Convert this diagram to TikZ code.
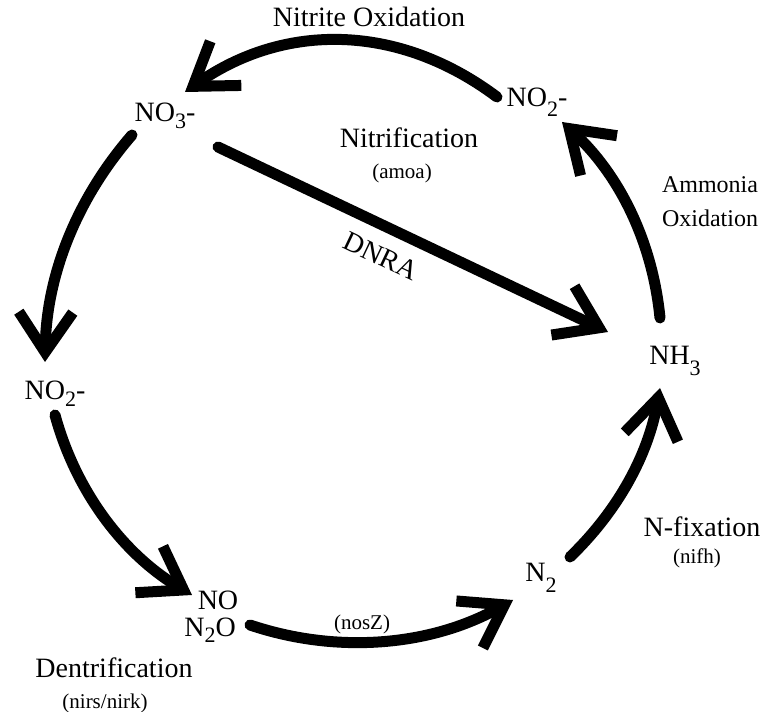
\documentclass[tikz,border=0pt]{standalone}
\usepackage{fontspec}
\setmainfont{Liberation Serif}
\usetikzlibrary{positioning,arrows.meta}
\newcommand{\chsub}[2][7pt]{\raisebox{-#1}{\fontsize{22}{22}\selectfont #2}}
\tikzset{
    species/.style={font=\fontsize{28}{34}\selectfont, inner sep=2pt, anchor=base},
    process/.style={font=\fontsize{28}{34}\selectfont, align=center, inner sep=2pt, anchor=base},
    gene/.style={font=\fontsize{21}{25}\selectfont, inner sep=2pt, anchor=base},
    flux/.style={-{Straight Barb[length=40pt,width=54pt]}, line width=11pt, line cap=round, line join=round},
    cyc/.style={flux, bend right=#1, looseness=0.9}
}
\begin{document}
\begin{tikzpicture}[x=1pt,y=1pt]
\useasboundingbox (0,0) rectangle (780,712);

% nitrogen species round the cycle
\node[species] (no3) at (165,590) {NO\chsub{3}-};
\node[species] (no2top) at (537,605) {NO\chsub[10pt]{2}-};
\node[species] (no2left) at (55,312) {NO\chsub{2}-};
\node[species] (no) at (218,102) {NO};
\node[species] (n2o) at (210,75) {N\chsub[6pt]{2}O};
\node[species] (n2) at (541,130) {N\chsub[11pt]{2}};
\node[species] (nh3) at (675,347) {NH\chsub[11pt]{3}};

% processes and genes
\node[process] (nitox) at (369,685) {Nitrite Oxidation};
\node[process] (nitrif) at (409,564) {Nitrification};
\node[gene, below=11pt of nitrif, xshift=-7pt] (amoa) {(amoa)};
\node[process, anchor=center, font=\fontsize{24}{34}\selectfont] (amox) at (710,510) {Ammonia\\Oxidation};
\node[process] (nfix) at (702,175) {N-fixation};
\node[gene, below=7pt of nfix, xshift=-5pt] (nifh) {(nifh)};
\node[gene] (nosz) at (362,82) {(nosZ)};
\node[process] (denit) at (114,34) {Dentrification};
\node[gene, below=11pt of denit, xshift=-9pt] (nirs) {(nirs/nirk)};

% cycle arrows
\draw[cyc=36, looseness=1] ([xshift=-40,yshift=10]no2top.base) to ([xshift=20,yshift=30]no3.base);
\draw[cyc=20] ([xshift=-33,yshift=-13]no3.base) to ([xshift=-10,yshift=38]no2left.base);
\draw[cyc=22] ([yshift=-15]no2left.base) to ([xshift=-26,yshift=15]no.base);
\draw[cyc=24] ([xshift=40,yshift=12]n2o.base) to ([xshift=-28,yshift=-18]n2.base);
\draw[cyc=18] ([xshift=29,yshift=25]n2.base) to ([xshift=-15,yshift=-23]nh3.base);
\draw[cyc=21] ([xshift=-15,yshift=47]nh3.base) to ([xshift=25,yshift=-15]no2top.base);
\draw[flux] ([xshift=53,yshift=-25]no3.base) -- node[process, sloped, pos=0.45, below=12pt] (dnra) {DNRA} ([xshift=-67,yshift=33]nh3.base);

\end{tikzpicture}
\end{document}
